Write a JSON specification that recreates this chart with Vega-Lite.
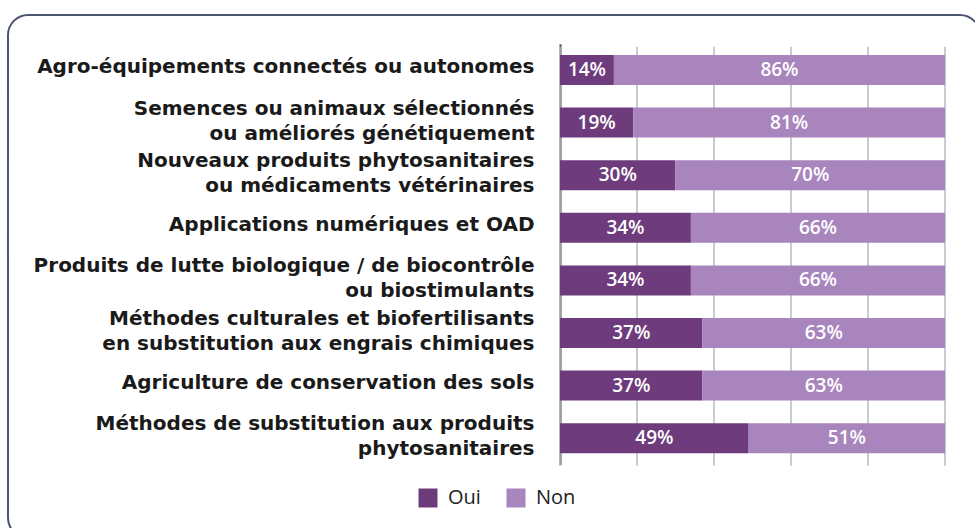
{
  "$schema": "https://vega.github.io/schema/vega-lite/v6.json",
  "autosize": {"type": "none"},
  "padding": {"left": 8, "top": 15, "right": -5, "bottom": -10},
  "width": 972,
  "height": 523,
  "background": "white",
  "config": {
    "view": {"stroke": "#4b5670", "strokeWidth": 2, "cornerRadius": 20},
    "font": "Open Sans"
  },
  "data": {
    "values": [
      {"cat": "Agro-équipements connectés ou autonomes", "resp": "Oui", "pct": 0.14},
      {"cat": "Agro-équipements connectés ou autonomes", "resp": "Non", "pct": 0.86},
      {"cat": "Semences ou animaux sélectionnés\nou améliorés génétiquement", "resp": "Oui", "pct": 0.19},
      {"cat": "Semences ou animaux sélectionnés\nou améliorés génétiquement", "resp": "Non", "pct": 0.81},
      {"cat": "Nouveaux produits phytosanitaires\nou médicaments vétérinaires", "resp": "Oui", "pct": 0.30},
      {"cat": "Nouveaux produits phytosanitaires\nou médicaments vétérinaires", "resp": "Non", "pct": 0.70},
      {"cat": "Applications numériques et OAD", "resp": "Oui", "pct": 0.34},
      {"cat": "Applications numériques et OAD", "resp": "Non", "pct": 0.66},
      {"cat": "Produits de lutte biologique / de biocontrôle\nou biostimulants", "resp": "Oui", "pct": 0.34},
      {"cat": "Produits de lutte biologique / de biocontrôle\nou biostimulants", "resp": "Non", "pct": 0.66},
      {"cat": "Méthodes culturales et biofertilisants\nen substitution aux engrais chimiques", "resp": "Oui", "pct": 0.37},
      {"cat": "Méthodes culturales et biofertilisants\nen substitution aux engrais chimiques", "resp": "Non", "pct": 0.63},
      {"cat": "Agriculture de conservation des sols", "resp": "Oui", "pct": 0.37},
      {"cat": "Agriculture de conservation des sols", "resp": "Non", "pct": 0.63},
      {"cat": "Méthodes de substitution aux produits\nphytosanitaires", "resp": "Oui", "pct": 0.49},
      {"cat": "Méthodes de substitution aux produits\nphytosanitaires", "resp": "Non", "pct": 0.51}
    ]
  },
  "layer": [
    {
      "data": {"values": [{"g": 0}, {"g": 0.2}, {"g": 0.4}, {"g": 0.6}, {"g": 0.8}, {"g": 1}]},
      "mark": {"type": "rule", "color": "#b5bac6", "strokeWidth": 1.5},
      "encoding": {
        "x": {"field": "g", "type": "quantitative", "scale": {"domain": [0, 1], "range": [552, 937], "nice": false}, "axis": null},
        "y": {"datum": 0, "type": "quantitative", "scale": {"domain": [0, 1], "range": [31.7, 450.7], "nice": false, "zero": false}, "axis": null},
        "y2": {"datum": 1}
      }
    },
    {
      "transform": [
        {"stack": "pct", "groupby": ["cat"], "sort": [{"field": "resp", "order": "descending"}], "as": ["p0", "p1"]}
      ],
      "layer": [
        {
          "mark": {"type": "bar"},
          "encoding": {
            "x": {"field": "p0", "type": "quantitative", "scale": {"domain": [0, 1], "range": [552, 937], "nice": false}, "axis": null},
            "x2": {"field": "p1"},
            "color": {
              "field": "resp", "type": "nominal",
              "scale": {"domain": ["Oui", "Non"], "range": ["#6e3c7d", "#a985be"]},
              "legend": {
                "orient": "none", "legendX": 410, "legendY": 473,
                "direction": "horizontal", "title": null,
                "symbolType": "square", "symbolSize": 361, "symbolStrokeWidth": 0,
                "symbolOpacity": 1,
                "labelFont": "Open Sans",
                "labelFontSize": 20, "labelColor": "#222222", "labelOffset": 10,
                "columnPadding": 25
              }
            }
          }
        },
        {
          "transform": [{"calculate": "(datum.p0 + datum.p1) / 2", "as": "pm"}],
          "mark": {"type": "text", "color": "white", "fontSize": 19, "fontWeight": 600, "font": "Open Sans"},
          "encoding": {
            "x": {"field": "pm", "type": "quantitative"},
            "text": {"field": "pct", "type": "quantitative", "format": ".0%"}
          }
        }
      ],
      "encoding": {
        "y": {
          "field": "cat", "type": "nominal", "sort": null,
          "scale": {"range": [28.7, 449.5], "paddingInner": 0.43, "paddingOuter": 0.215},
          "axis": {
            "title": null, "orient": "left", "offset": -552,
            "domainColor": "#4a4f5e", "domainWidth": 2, "ticks": false,
            "labelPadding": 26, "labelFont": "DejaVu Sans", "labelFontSize": 20,
            "labelFontWeight": "bold",
            "labelColor": "#1a1a1a", "labelLimit": 0,
            "labelExpr": "split(datum.value, '\\n')", "labelLineHeight": 25,
            "labelAlign": "right", "labelBaseline": "middle",
            "labelOffset": {"condition": {"test": "indexof(datum.value, '\\n') >= 0", "value": -14}, "value": -3}
          }
        }
      }
    }
  ],
  "resolve": {"scale": {"y": "independent"}, "axis": {"y": "independent"}}
}
